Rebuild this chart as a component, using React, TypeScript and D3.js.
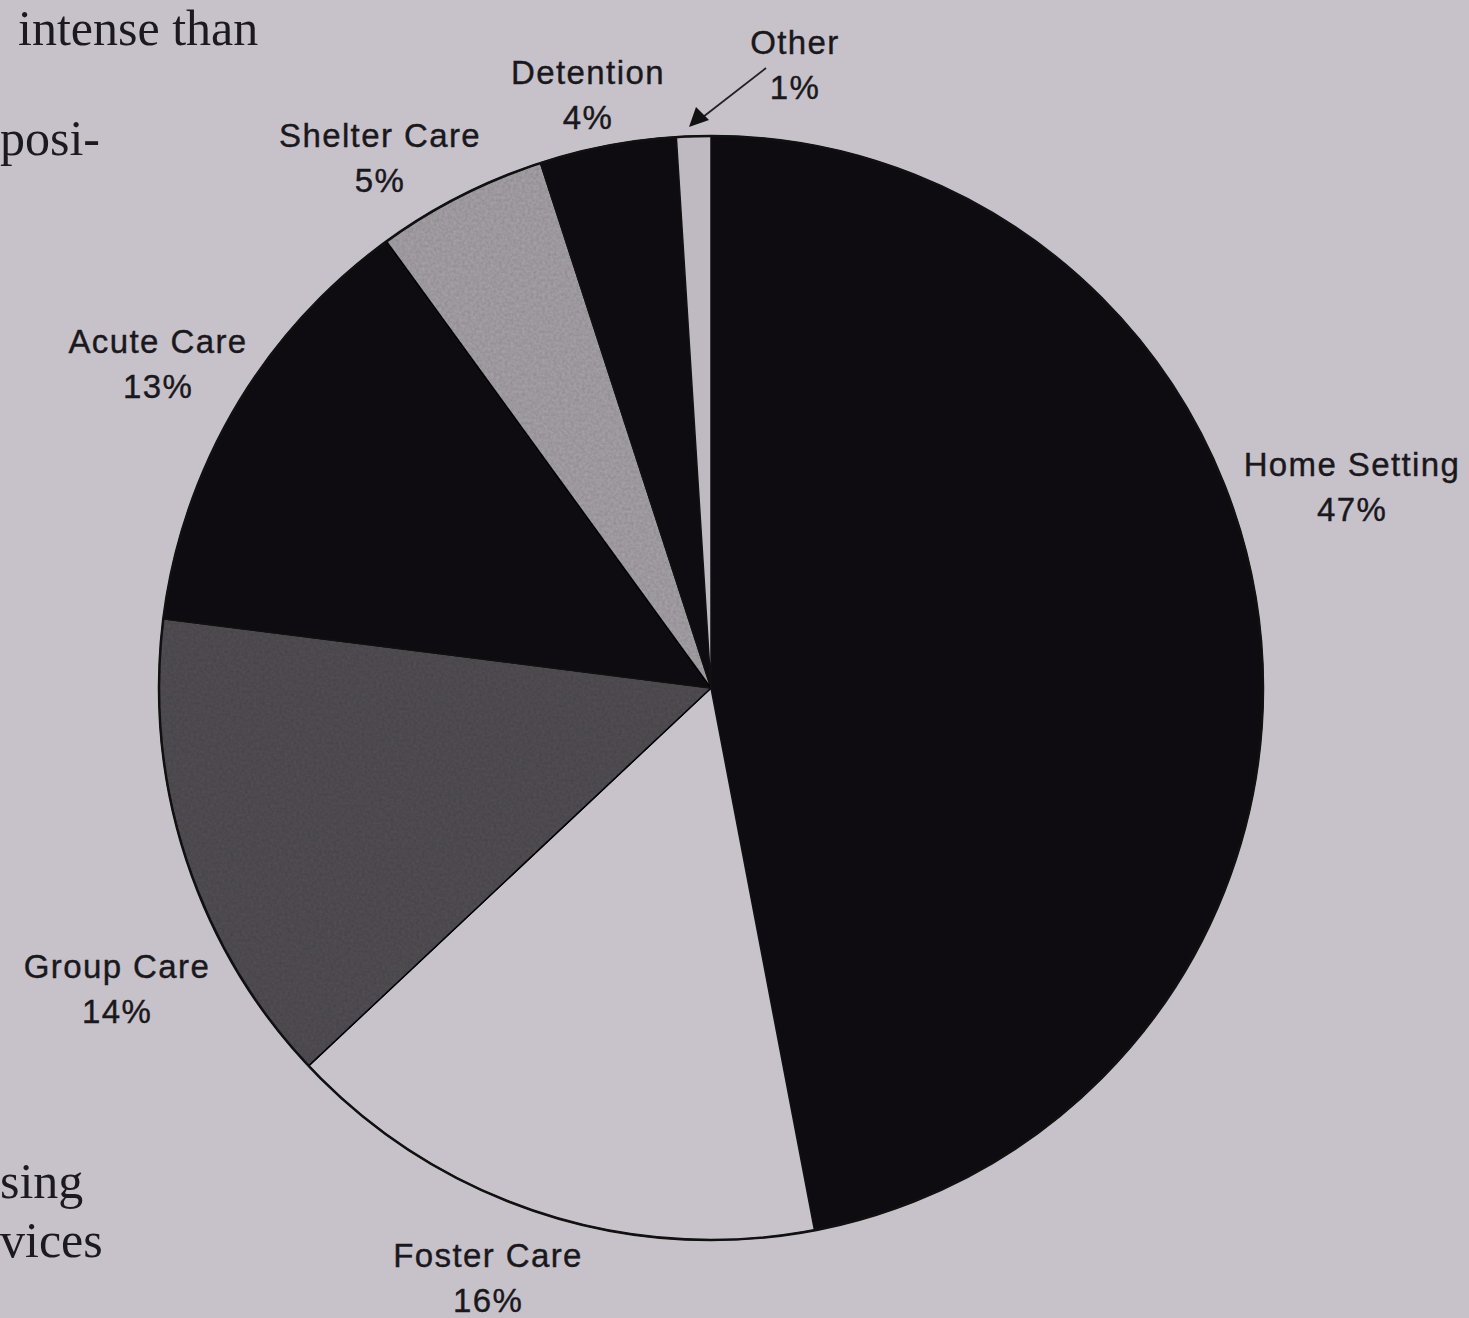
import React from "react";
import * as d3 from "d3";

const categories = ["Home Setting", "Foster Care", "Group Care", "Acute Care", "Shelter Care", "Detention", "Other"];
const values = [47, 16, 14, 13, 5, 4, 1];
const fills = ["#0e0c10", "#c8c3cb", "#545157", "#0e0c10", "#aaa6ac", "#0e0c10", "#bfbac1"];
// label anchor positions (label center x, first-line baseline y)
const labelPos: [number, number][] = [
  [1352, 476],
  [488, 1267],
  [117, 978],
  [158, 353],
  [380, 147],
  [588, 84],
  [795, 54],
];
const bookText = [
  { t: "intense than", x: 18, y: 45 },
  { t: "posi-", x: 0, y: 155 },
  { t: "sing", x: 0, y: 1198 },
  { t: "vices", x: 0, y: 1257 },
];

const W = 1469;
const H = 1318;
const cx = 711;
const cy = 688;
const R = 552;

export default function App() {
  const pie = d3.pie<number>().sort(null).startAngle(0).endAngle(2 * Math.PI);
  const arcs = pie(values);
  const arc = d3.arc<d3.PieArcDatum<number>>().innerRadius(0).outerRadius(R);
  const labelFont = "'Liberation Sans', Arial, Helvetica, sans-serif";
  return (
    <svg
      width={W}
      height={H}
      style={{ position: "absolute", left: 0, top: 0, display: "block" }}
    >
      <defs>
        <filter id="grain" x="0" y="0" width="100%" height="100%">
          <feTurbulence type="fractalNoise" baseFrequency="0.35" numOctaves="2" seed="3" result="n" />
          <feColorMatrix in="n" type="matrix" values="0 0 0 0 0  0 0 0 0 0  0 0 0 0 0  0 0 0 0.35 0" result="a" />
          <feComposite in="a" in2="SourceGraphic" operator="in" result="g" />
          <feMerge>
            <feMergeNode in="SourceGraphic" />
            <feMergeNode in="g" />
          </feMerge>
        </filter>
      </defs>
      <rect x={0} y={0} width={W} height={H} fill="#c7c2ca" />
      {bookText.map((b, i) => (
        <text
          key={i}
          x={b.x}
          y={b.y}
          fontFamily="'Liberation Serif', 'Times New Roman', serif"
          fontSize={50}
          fill="#1c1a1e"
        >
          {b.t}
        </text>
      ))}
      <g transform={`translate(${cx},${cy})`}>
        {arcs.map((a, i) => (
          <path
            key={i}
            d={arc(a) || ""}
            fill={fills[i]}
            stroke="#111"
            strokeWidth={1.5}
            filter={i === 2 || i === 4 ? "url(#grain)" : undefined}
          />
        ))}
        <circle r={R} fill="none" stroke="#111" strokeWidth={2.5} />
      </g>
      {categories.map((c, i) => (
        <g key={c}>
          <text
            x={labelPos[i][0]}
            y={labelPos[i][1]}
            textAnchor="middle"
            fontFamily={labelFont}
            fontSize={33}
            letterSpacing={1.4}
            fill="#1a181c"
            stroke="#1a181c"
            strokeWidth={0.4}
          >
            {c}
          </text>
          <text
            x={labelPos[i][0]}
            y={labelPos[i][1] + 45}
            textAnchor="middle"
            fontFamily={labelFont}
            fontSize={33}
            letterSpacing={1.4}
            fill="#1a181c"
            stroke="#1a181c"
            strokeWidth={0.4}
          >
            {values[i] + "%"}
          </text>
        </g>
      ))}
      <line x1={766} y1={68} x2={703} y2={117} stroke="#222" strokeWidth={1.8} />
      <path d="M689,127 L696,107 L709,120 Z" fill="#111" />
    </svg>
  );
}
